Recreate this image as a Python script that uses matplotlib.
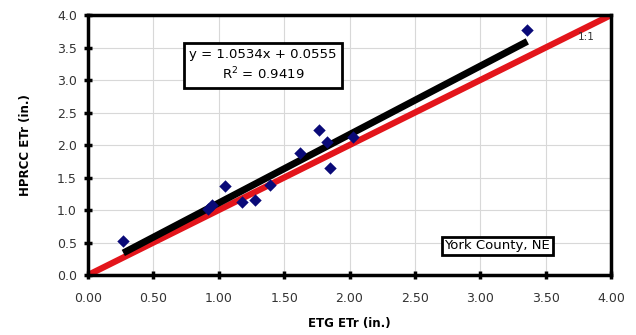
import matplotlib
matplotlib.use("Agg")
import matplotlib.pyplot as plt
import numpy as np

plt.rcParams['font.family'] = ['DejaVu Sans']

# data
etg = [0.27, 0.92, 0.95, 1.05, 1.175, 1.28, 1.39, 1.62, 1.77, 1.825, 1.85, 2.03, 3.36]
hprcc = [0.52, 1.02, 1.07, 1.37, 1.13, 1.15, 1.38, 1.88, 2.23, 2.05, 1.64, 2.13, 3.77]
slope = 1.0534
intercept = 0.0555
r2 = 0.9419
x_ticks = [0.0, 0.5, 1.0, 1.5, 2.0, 2.5, 3.0, 3.5, 4.0]
y_ticks = [0.0, 0.5, 1.0, 1.5, 2.0, 2.5, 3.0, 3.5, 4.0]

fig = plt.figure(figsize=(6.36, 3.35), dpi=100)
ax = fig.add_axes([0.1384, 0.179, 0.8223, 0.776])

ax.grid(True, color='#d8d8d8', linewidth=0.8)
ax.set_axisbelow(True)

# 1:1 line
ax.plot([0, 4], [0, 4], color='#e3151b', linewidth=4.5, zorder=2, solid_capstyle='butt')
# trendline
xfit = np.array([min(etg), max(etg)])
ax.plot(xfit, slope * xfit + intercept, color='black', linewidth=5, zorder=3,
        solid_capstyle='butt')
ax.scatter(etg, hprcc, marker='D', s=40, color='#0a0a78', zorder=4, linewidths=0)

ax.set_xlim(0, 4)
ax.set_ylim(0, 4)
ax.set_xticks(x_ticks)
ax.set_yticks(y_ticks)
ax.set_xticklabels([f'{v:.2f}' for v in x_ticks])
ax.set_yticklabels([f'{v:.1f}' for v in y_ticks])
ax.tick_params(axis='both', direction='inout', length=6, width=2.5,
               labelsize=9, labelcolor='#333333')
ax.tick_params(axis='x', pad=9)
ax.tick_params(axis='y', pad=5)

for sp in ax.spines.values():
    sp.set_linewidth(2.5)

ax.set_xlabel('ETG ETr (in.)', fontsize=8.5, fontweight='bold', labelpad=9)
ax.set_ylabel('HPRCC ETr (in.)', fontsize=8.5, fontweight='bold', labelpad=18)

ax.text(1.34, 3.23, f'y = {slope}x + {intercept}\nR$^2$ = {r2}', ha='center', va='center',
        fontsize=9.5, linespacing=1.35,
        bbox=dict(boxstyle='square,pad=0.4', facecolor='white', edgecolor='black', linewidth=2))
ax.text(3.13, 0.45, 'York County, NE', ha='center', va='center', fontsize=9.5,
        bbox=dict(boxstyle='square,pad=0.2', facecolor='white', edgecolor='black', linewidth=2))
ax.text(3.81, 3.66, '1:1', ha='center', va='center', fontsize=7.5, color='#333333')

fig.savefig('out.png', dpi=100)
